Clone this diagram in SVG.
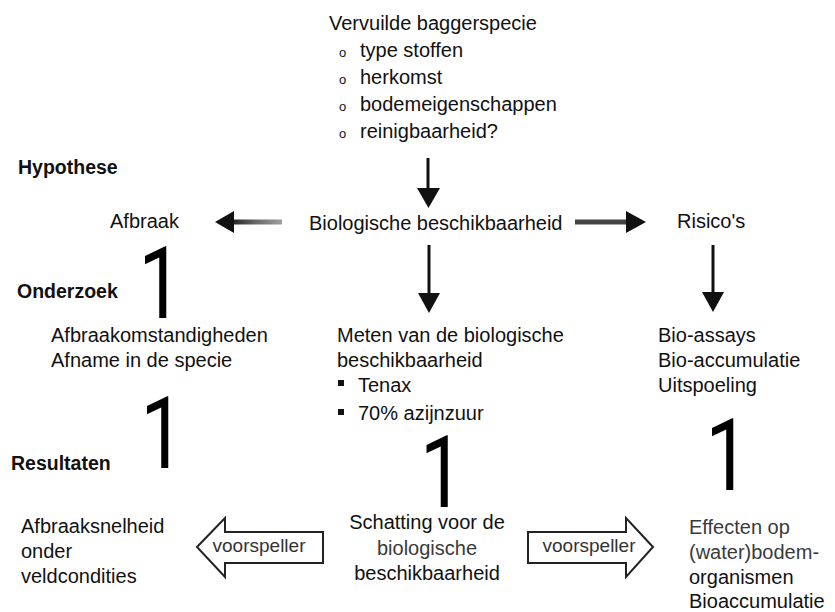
<svg xmlns="http://www.w3.org/2000/svg" width="835" height="612" viewBox="0 0 835 612">
<defs>
<style>
text{font-family:"Liberation Sans",Arial,sans-serif;fill:#111;}
.t{font-size:20px;}
.b{font-size:19.5px;font-weight:bold;}
.one{font-family:Roboto,"Open Sans",sans-serif;font-size:100px;fill:#000;}
.soft{fill:#3a3a3a;}
.sm{font-size:19px;fill:#333;}
.bul{font-size:13px;}
.shaft{stroke:#111;stroke-width:3;}
.head{fill:#111;}
.va{fill:#fff;stroke:#222;stroke-width:2;stroke-linejoin:miter;}
</style>
<linearGradient id="gl" x1="0" y1="0" x2="1" y2="0">
<stop offset="0" stop-color="#222"/>
<stop offset="0.45" stop-color="#666"/>
<stop offset="1" stop-color="#a0a0a0"/>
</linearGradient>
</defs>
<rect width="835" height="612" fill="#fff"/>

<g id="node-baggerspecie">
<text class="t" x="329" y="30">Vervuilde baggerspecie</text>
<text class="bul" x="339" y="57">o</text><text class="t" x="360" y="57">type stoffen</text>
<text class="bul" x="339" y="84">o</text><text class="t" x="360" y="84">herkomst</text>
<text class="bul" x="339" y="111">o</text><text class="t" x="360" y="111">bodemeigenschappen</text>
<text class="bul" x="339" y="138">o</text><text class="t" x="360" y="138">reinigbaarheid?</text>
</g>

<g id="label-hypothese"><text class="b" x="18" y="174">Hypothese</text></g>
<g id="label-onderzoek"><text class="b" x="17" y="298">Onderzoek</text></g>
<g id="label-resultaten"><text class="b" x="11" y="470">Resultaten</text></g>

<g id="node-afbraak"><text class="t" x="110" y="228">Afbraak</text></g>
<g id="node-biobeschikbaarheid"><text class="t" x="309" y="230">Biologische beschikbaarheid</text></g>
<g id="node-risicos"><text class="t" x="677" y="228">Risico's</text></g>

<g id="node-afbraakomstandigheden">
<text class="t" x="51" y="342">Afbraakomstandigheden</text>
<text class="t" x="51" y="367">Afname in de specie</text>
</g>

<g id="node-meten">
<text class="t" x="337" y="342">Meten van de biologische</text>
<text class="t" x="337" y="367">beschikbaarheid</text>
<rect x="338" y="380" width="6" height="6" fill="#111"/>
<text class="t" x="358" y="392">Tenax</text>
<rect x="338" y="409" width="6" height="6" fill="#111"/>
<text class="t" x="358" y="420">70% azijnzuur</text>
</g>

<g id="node-bioassays">
<text class="t" x="658" y="342">Bio-assays</text>
<text class="t" x="658" y="367">Bio-accumulatie</text>
<text class="t" x="658" y="392">Uitspoeling</text>
</g>

<g id="node-afbraaksnelheid">
<text class="t" x="21" y="533">Afbraaksnelheid</text>
<text class="t" x="21" y="558">onder</text>
<text class="t" x="21" y="583">veldcondities</text>
</g>

<g id="node-schatting">
<text class="t" x="427" y="529" text-anchor="middle">Schatting voor de</text>
<text class="t soft" x="427" y="555" text-anchor="middle">biologische</text>
<text class="t" x="427" y="580" text-anchor="middle">beschikbaarheid</text>
</g>

<g id="node-effecten">
<text class="t soft" x="689" y="534">Effecten op</text>
<text class="t soft" x="689" y="559">(water)bodem-</text>
<text class="t" x="689" y="584">organismen</text>
<text class="t" x="689" y="608">Bioaccumulatie</text>
</g>

<g id="connectors">
<line class="shaft" x1="428" y1="158" x2="428" y2="190"/>
<polygon class="head" points="417,188 440,188 428.5,208"/>
<rect x="232" y="219.5" width="50" height="5" fill="url(#gl)"/>
<polygon class="head" points="215,222 234,211 234,233"/>
<rect x="575" y="219.5" width="53" height="5" fill="#444"/>
<polygon class="head" points="626,211 646,222 626,233"/>
<line class="shaft" x1="429" y1="245" x2="429" y2="295"/>
<polygon class="head" points="418,293 440,293 429,313"/>
<line class="shaft" x1="713" y1="245" x2="713" y2="294"/>
<polygon class="head" points="702,292 724,292 713,312"/>
<text class="one" transform="translate(138.5,318) scale(0.78,1)">1</text>
<text class="one" transform="translate(140.5,468) scale(0.78,1)">1</text>
<text class="one" transform="translate(420,507) scale(0.78,1)" font-size="94">1</text>
<text class="one" transform="translate(705.5,490) scale(0.78,1)">1</text>
<path class="va" d="M197,547 L225,518 L225,532 L323,532 L323,563 L225,563 L225,577 Z"/>
<text class="sm" x="259" y="552" text-anchor="middle">voorspeller</text>
<path class="va" d="M653,547 L626,518 L626,532 L528,532 L528,563 L626,563 L626,577 Z"/>
<text class="sm" x="589" y="552" text-anchor="middle">voorspeller</text>
</g>
</svg>
